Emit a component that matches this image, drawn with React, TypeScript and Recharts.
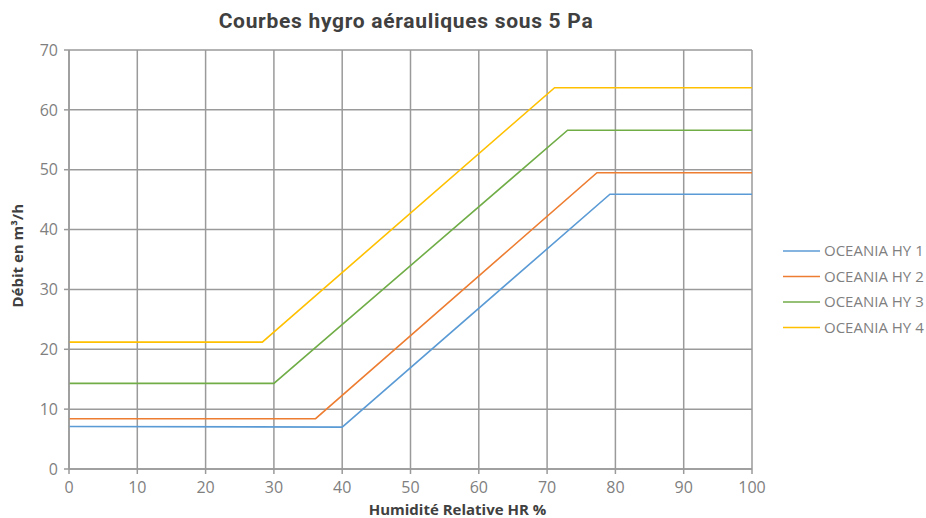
import React from 'react';
import { LineChart, Line, XAxis, YAxis, CartesianGrid } from 'recharts';

// points: [HR %, débit m³/h]
const hy1 = [
  { hr: 0, q: 7.1 },
  { hr: 40, q: 7.0 },
  { hr: 79.2, q: 45.9 },
  { hr: 100, q: 45.9 },
];
const hy2 = [
  { hr: 0, q: 8.4 },
  { hr: 36.1, q: 8.4 },
  { hr: 77.3, q: 49.5 },
  { hr: 100, q: 49.5 },
];
const hy3 = [
  { hr: 0, q: 14.3 },
  { hr: 30, q: 14.3 },
  { hr: 73, q: 56.6 },
  { hr: 100, q: 56.6 },
];
const hy4 = [
  { hr: 0, q: 21.2 },
  { hr: 28.3, q: 21.2 },
  { hr: 71.1, q: 63.7 },
  { hr: 100, q: 63.7 },
];

const xTicks = [0, 10, 20, 30, 40, 50, 60, 70, 80, 90, 100];
const yTicks = [0, 10, 20, 30, 40, 50, 60, 70];

const series = [
  { name: 'OCEANIA HY 1', data: hy1, color: '#5B9BD5' },
  { name: 'OCEANIA HY 2', data: hy2, color: '#ED7D31' },
  { name: 'OCEANIA HY 3', data: hy3, color: '#70AD47' },
  { name: 'OCEANIA HY 4', data: hy4, color: '#FFC000' },
];

const GRID = '#9a9a9a';
const TICK_FONT = { fill: '#7f7f7f', fontSize: 16, fontFamily: 'Open Sans' };
const LABEL_STYLE = { fill: '#404040', fontSize: 15, fontWeight: 700, fontFamily: 'Open Sans' };

export default function App() {
  return (
    <div style={{ position: 'absolute', left: 0, top: 0, width: 926, height: 518, background: '#fff' }}>
      <div
        style={{
          position: 'absolute',
          top: 9,
          left: 0,
          width: 812,
          textAlign: 'center',
          fontFamily: 'Roboto',
          fontWeight: 700,
          fontSize: 21,
          color: '#404040',
          letterSpacing: 0.7,
        }}
      >
        Courbes hygro aérauliques sous 5 Pa
      </div>
      <LineChart width={926} height={518} margin={{ top: 50, right: 174, bottom: 0, left: 0 }}>
        <CartesianGrid stroke={GRID} strokeWidth={1.5} />
        <XAxis
          type="number"
          dataKey="hr"
          domain={[0, 100]}
          ticks={xTicks}
          height={49}
          stroke={GRID}
          strokeWidth={1.5}
          tickSize={5}
          tickMargin={8}
          tick={TICK_FONT}
          allowDuplicatedCategory={false}
          label={{
            value: 'Humidité Relative HR %',
            position: 'insideBottom',
            offset: 3,
            dx: 47,
            style: LABEL_STYLE,
          }}
        />
        <YAxis
          type="number"
          domain={[0, 70]}
          ticks={yTicks}
          width={69}
          stroke={GRID}
          strokeWidth={1.5}
          tickSize={5}
          tickMargin={6}
          tick={TICK_FONT}
          label={{
            value: 'Débit en m³/h',
            angle: -90,
            position: 'insideLeft',
            offset: 18,
            dy: 48,
            style: LABEL_STYLE,
          }}
        />
        {series.map((s) => (
          <Line
            key={s.name}
            name={s.name}
            data={s.data}
            dataKey="q"
            type="linear"
            stroke={s.color}
            strokeWidth={1.6}
            dot={false}
            isAnimationActive={false}
          />
        ))}
      </LineChart>
      <svg style={{ position: 'absolute', left: 780, top: 240 }} width={146} height={100}>
        {series.map((s, i) => (
          <g key={s.name} transform={`translate(0, ${i * 25.5})`}>
            <line x1={3} x2={40} y1={11} y2={11} stroke={s.color} strokeWidth={1.5} />
            <text x={44} y={16} fontSize={15} fontFamily="Open Sans" fill="#7f7f7f">
              {s.name}
            </text>
          </g>
        ))}
      </svg>
    </div>
  );
}
